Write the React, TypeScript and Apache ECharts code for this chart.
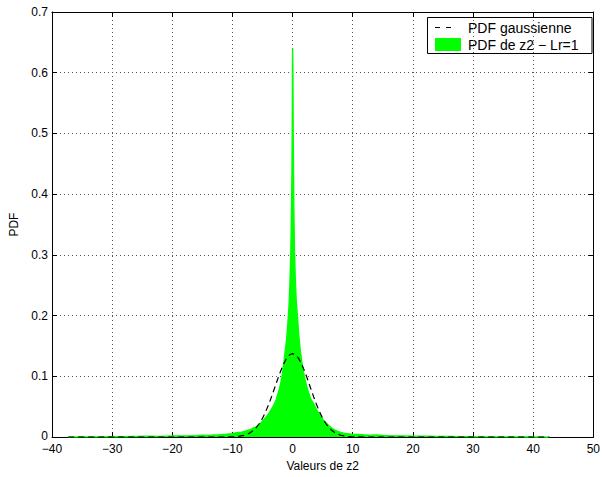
import React, { useEffect, useRef } from "react";
import * as echarts from "echarts";

// Histogram of z2 (green area): bin centres and PDF values
const histX = [-37.3, -35, -32, -30, -28, -26, -24, -22, -20, -18, -16, -15, -14, -13, -12, -11, -10, -9.5, -9, -8.5, -8, -7.5, -7, -6.5, -6, -5.5, -5, -4.5, -4, -3.5, -3, -2.75, -2.5, -2.25, -2, -1.75, -1.5, -1.25, -1, -0.8, -0.6, -0.45, -0.3, -0.2, -0.1, -0.05, 0, 0.05, 0.1, 0.2, 0.3, 0.45, 0.6, 0.8, 1, 1.25, 1.5, 1.75, 2, 2.25, 2.5, 2.75, 3, 3.5, 4, 4.5, 5, 5.5, 6, 6.5, 7, 7.5, 8, 8.5, 9, 9.5, 10, 11, 12, 13, 14, 15, 16, 18, 20, 22, 24, 26, 28, 30, 33, 36, 40, 42.7];
const histY = [0, 0.0004, 0.0003, 0.0006, 0.0005, 0.001, 0.0015, 0.0011, 0.0019, 0.0017, 0.0025, 0.003, 0.0027, 0.0036, 0.004, 0.0047, 0.0055, 0.0068, 0.0075, 0.0082, 0.0095, 0.011, 0.0125, 0.015, 0.017, 0.021, 0.026, 0.032, 0.038, 0.046, 0.055, 0.061, 0.069, 0.077, 0.087, 0.1, 0.118, 0.14, 0.16, 0.185, 0.215, 0.25, 0.3, 0.36, 0.44, 0.52, 0.64, 0.6, 0.5, 0.38, 0.31, 0.26, 0.225, 0.2, 0.17, 0.145, 0.126, 0.11, 0.097, 0.087, 0.078, 0.07, 0.063, 0.055, 0.045, 0.037, 0.029, 0.024, 0.019, 0.015, 0.012, 0.0095, 0.0078, 0.0066, 0.0058, 0.005, 0.0046, 0.0043, 0.0037, 0.0032, 0.0034, 0.0027, 0.0024, 0.0019, 0.0014, 0.0016, 0.0011, 0.0012, 0.0007, 0.0005, 0.0004, 0.0003, 0.0002, 0];

// Gaussian PDF (dashed): values
const gaussX = [-37.3, -12, -10, -9, -8, -7.5, -7, -6.5, -6, -5.5, -5, -4.5, -4, -3.5, -3, -2.5, -2, -1.5, -1, -0.5, 0, 0.5, 1, 1.5, 2, 2.5, 3, 3.5, 4, 4.5, 5, 5.5, 6, 6.5, 7, 7.5, 8, 9, 10, 12, 42.7];
const gaussY = [0, 0.0001, 0.0004, 0.0011, 0.0031, 0.0049, 0.0075, 0.0112, 0.0162, 0.0228, 0.0311, 0.0413, 0.0531, 0.0664, 0.0805, 0.0948, 0.1084, 0.1203, 0.1296, 0.1355, 0.1375, 0.1355, 0.1296, 0.1203, 0.1084, 0.0948, 0.0805, 0.0664, 0.0531, 0.0413, 0.0311, 0.0228, 0.0162, 0.0112, 0.0075, 0.0049, 0.0031, 0.0011, 0.0004, 0.0001, 0];

const legendNames = ["PDF gaussienne", "PDF de z2 \u2212 Lr=1"];
const xLabel = "Valeurs de z2";
const yLabel = "PDF";

const FONT = "'Liberation Sans', Arial, Helvetica, sans-serif";

export default function App() {
  const ref = useRef<HTMLDivElement>(null);
  useEffect(() => {
    if (!ref.current) return;
    const chart = echarts.init(ref.current, undefined, { renderer: "svg" });
    const histData = histX.map((x, i) => [x, histY[i]]);
    const gaussData = gaussX.map((x, i) => [x, gaussY[i]]);
    const fmtX = (v: number) => (v < 0 ? "\u2212" + Math.abs(v) : String(v));
    const fmtY = (v: number) => (Math.abs(v) < 1e-9 ? "{z|0}" : v.toFixed(1));
    const axisCommon = {
      axisLine: { show: true, onZero: false, lineStyle: { color: "#000", width: 1 } },
      axisTick: { show: true, inside: true, length: 5, lineStyle: { color: "#000", width: 1 } },
    };
    const gridLine = { show: true, lineStyle: { color: "#555", width: 1, type: [1, 3] as any } };
    chart.setOption({
      animation: false,
      backgroundColor: "#fff",
      grid: { left: 52, right: 4, top: 12, bottom: 35, containLabel: false },
      xAxis: [
        {
          type: "value", min: -40, max: 50, interval: 10, position: "bottom",
          ...axisCommon,
          axisLabel: { color: "#000", fontSize: 12, fontFamily: FONT, margin: 6, formatter: fmtX, hideOverlap: false, showMaxLabel: true, showMinLabel: true },
          splitLine: gridLine,
          name: xLabel, nameLocation: "middle", nameGap: 19,
          nameTextStyle: { color: "#000", fontSize: 12, fontFamily: FONT },
        },
        {
          type: "value", min: -40, max: 50, interval: 10, position: "top",
          ...axisCommon, axisLabel: { show: false }, splitLine: { show: false },
        },
      ],
      yAxis: [
        {
          type: "value", min: 0, max: 0.7, interval: 0.1, position: "left",
          ...axisCommon,
          axisLabel: {
            color: "#000", fontSize: 12, fontFamily: FONT, margin: 4, formatter: fmtY,
            rich: { z: { color: "#000", fontSize: 12, fontFamily: FONT, padding: [0, 0, 3, 0] } },
          },
          splitLine: gridLine,
          name: yLabel, nameLocation: "middle", nameGap: 30, nameRotate: 90,
          nameTextStyle: { color: "#000", fontSize: 12, fontFamily: FONT },
        },
        {
          type: "value", min: 0, max: 0.7, interval: 0.1, position: "right",
          ...axisCommon, axisLabel: { show: false }, splitLine: { show: false },
        },
      ],
      series: [
        {
          name: legendNames[1], type: "line", data: histData, symbol: "none", z: 3, clip: false,
          lineStyle: { color: "#00ff00", width: 1.4 },
          areaStyle: { color: "#00ff00", opacity: 1 },
        },
        {
          name: legendNames[0], type: "line", data: gaussData, symbol: "none", z: 4,
          lineStyle: { color: "#000", width: 1.2, type: [6, 4] as any },
        },
      ],
      graphic: [
        {
          type: "group", z: 100,
          children: [
            { type: "rect", shape: { x: 427.5, y: 17.5, width: 164.5, height: 36 }, style: { fill: "#fff", stroke: "#000", lineWidth: 1 } },
            { type: "line", shape: { x1: 435, y1: 27.5, x2: 452, y2: 27.5 }, style: { stroke: "#000", lineWidth: 1.2, lineDash: [5, 6] } },
            { type: "rect", shape: { x: 435, y: 38, width: 26, height: 13 }, style: { fill: "#00ff00" } },
            { type: "text", x: 468, y: 28, style: { text: legendNames[0], fill: "#000", font: `14px ${FONT}`, verticalAlign: "middle", align: "left" } },
            { type: "text", x: 468, y: 45, style: { text: legendNames[1], fill: "#000", font: `14px ${FONT}`, verticalAlign: "middle", align: "left" } },
          ],
        },
      ],
    });
    return () => chart.dispose();
  }, []);
  return <div ref={ref} style={{ position: "fixed", left: 0, top: 0, width: 603, height: 477 }} />;
}
